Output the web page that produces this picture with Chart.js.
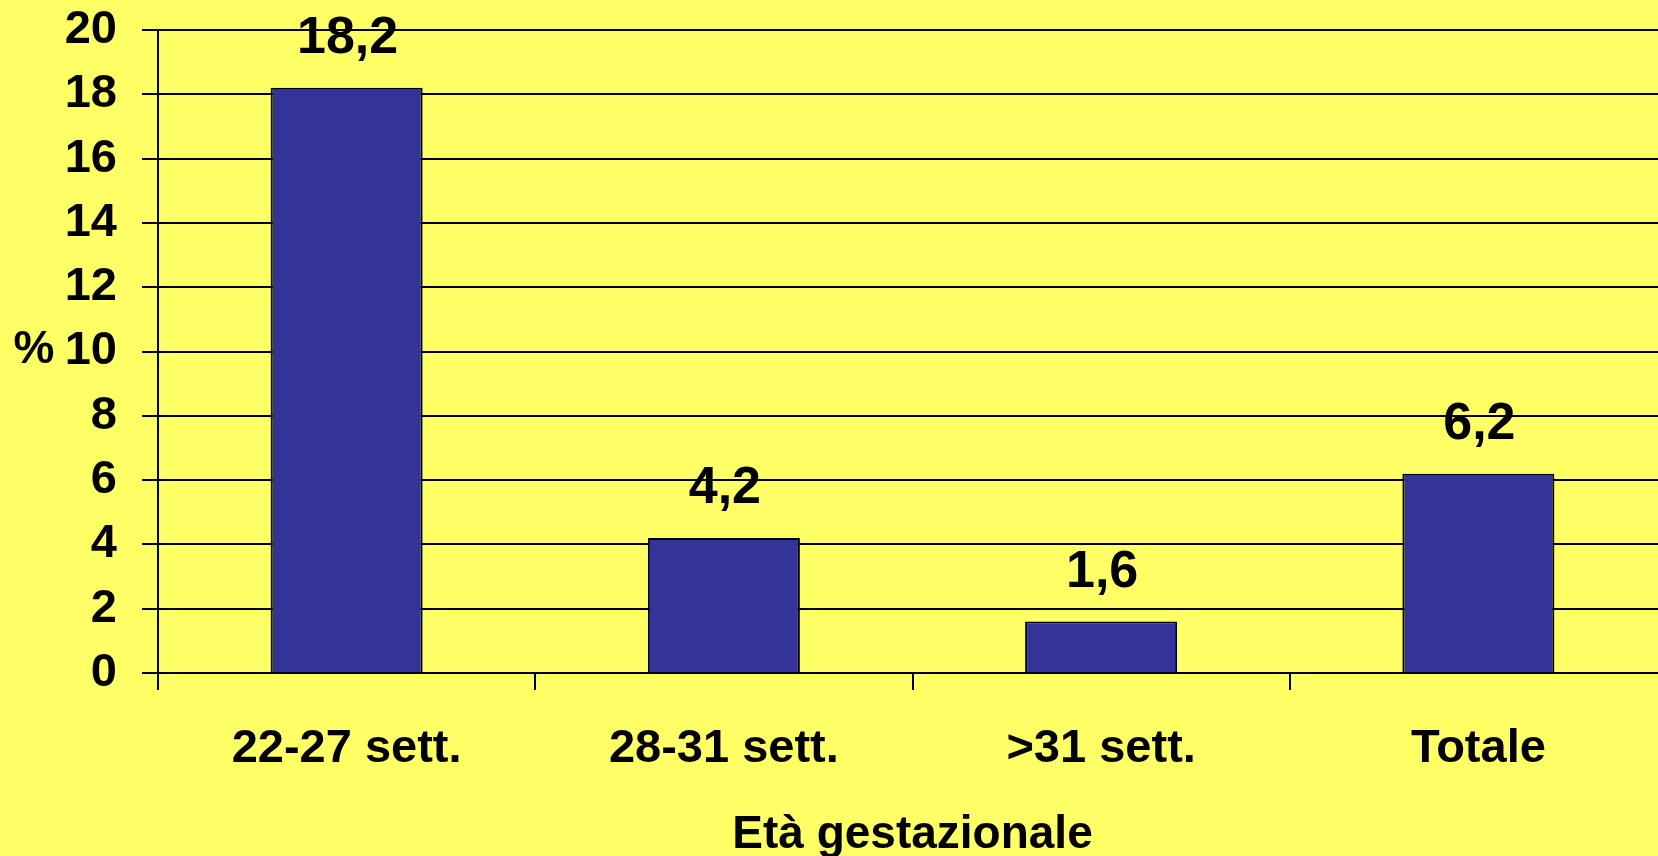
<!DOCTYPE html>
<html>
<head>
<meta charset="utf-8">
<script src="https://cdn.jsdelivr.net/npm/chart.js@4"></script>
<style>
  html, body { margin: 0; padding: 0; overflow: hidden; background: #ffff66; }
  #wrap { width: 1668px; height: 856px; }
</style>
</head>
<body>
<div id="wrap"><canvas id="myChart" width="1668" height="856"></canvas></div>
<script>
// data
const categories = ['22-27 sett.', '28-31 sett.', '>31 sett.', 'Totale'];
const values = [18.2, 4.2, 1.6, 6.2];
const yTicks = [0, 2, 4, 6, 8, 10, 12, 14, 16, 18, 20];
const xTitle = 'Età gestazionale';
const yTitle = '%';

const fontFamily = '"Liberation Sans", Arial, sans-serif';

// values over the bars, with comma decimals
const valueLabels = {
  id: 'valueLabels',
  afterDatasetsDraw(chart) {
    const ctx = chart.ctx;
    const meta = chart.getDatasetMeta(0);
    ctx.save();
    ctx.font = 'bold 52px ' + fontFamily;
    ctx.fillStyle = '#000';
    ctx.textAlign = 'center';
    ctx.textBaseline = 'alphabetic';
    meta.data.forEach((bar, i) => {
      const txt = values[i].toFixed(1).replace('.', ',');
      ctx.fillText(txt, bar.x + 1, bar.y - 35);
    });
    ctx.restore();
  }
};

// horizontal "%" left of the y axis
const yAxisTitle = {
  id: 'yAxisTitle',
  afterDraw(chart) {
    const ctx = chart.ctx;
    const area = chart.chartArea;
    ctx.save();
    ctx.font = 'bold 46px ' + fontFamily;
    ctx.fillStyle = '#000';
    ctx.textAlign = 'center';
    ctx.textBaseline = 'middle';
    ctx.fillText(yTitle, 34, (area.top + area.bottom) / 2 - 1);
    ctx.restore();
  }
};

const ctx = document.getElementById('myChart');

new Chart(ctx, {
  type: 'bar',
  data: {
    labels: categories,
    datasets: [{
      data: values,
      backgroundColor: '#333399',
      borderColor: '#000',
      borderWidth: 2,
      barPercentage: 0.403,
      categoryPercentage: 1
    }]
  },
  options: {
    responsive: false,
    animation: false,
    layout: { padding: { top: 30, right: 1, bottom: 0, left: 0 } },
    plugins: {
      legend: { display: false },
      tooltip: { enabled: false }
    },
    scales: {
      x: {
        offset: true,
        grid: {
          display: true,
          offset: true,
          drawOnChartArea: false,
          drawTicks: true,
          tickLength: 17,
          color: '#000',
          lineWidth: 2
        },
        border: { display: true, color: '#000', width: 2 },
        ticks: {
          color: '#000',
          padding: 31,
          maxRotation: 0,
          font: { family: fontFamily, size: 47, weight: 'bold' }
        },
        title: {
          display: true,
          text: xTitle,
          color: '#000',
          padding: { top: 0, bottom: 0 },
          font: { family: fontFamily, size: 46, weight: 'bold', lineHeight: 0.9 }
        },
        afterFit(scale) {
          scale.height = 183;
          scale.paddingLeft = 0;
          scale.paddingRight = 0;
        }
      },
      y: {
        min: 0,
        max: 20,
        afterBuildTicks(scale) {
          scale.ticks = yTicks.map(v => ({ value: v }));
        },
        grid: {
          color: '#000',
          lineWidth: 2,
          drawTicks: true,
          tickLength: 16
        },
        border: { display: true, color: '#000', width: 2 },
        ticks: {
          color: '#000',
          padding: 25,
          font: { family: fontFamily, size: 47, weight: 'bold' }
        },
        afterFit(scale) {
          scale.width = 158;
          scale.paddingTop = 0;
          scale.paddingBottom = 0;
        }
      }
    }
  },
  plugins: [valueLabels, yAxisTitle]
});
</script>
</body>
</html>
